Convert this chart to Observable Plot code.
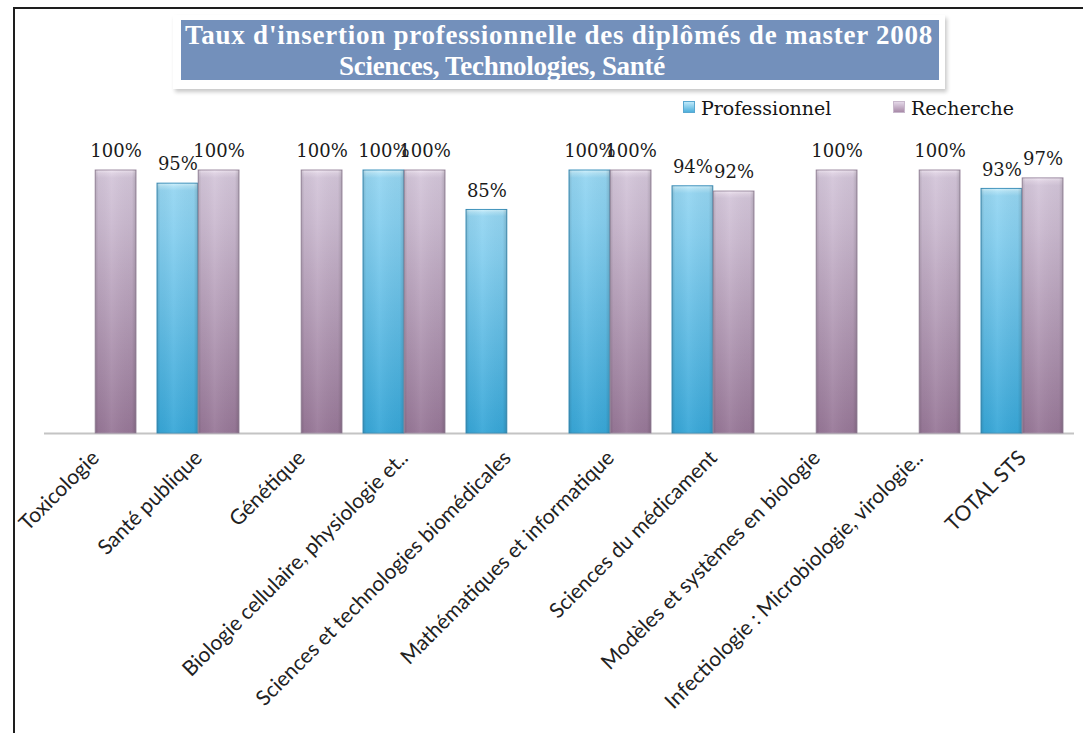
<!DOCTYPE html>
<html>
<head>
<meta charset="utf-8">
<script src="https://cdn.jsdelivr.net/npm/d3@7"></script>
<script src="https://cdn.jsdelivr.net/npm/@observablehq/plot@0.6"></script>
<style>
  html, body { margin: 0; padding: 0; background: #fff; }
  #root { position: relative; width: 1083px; height: 733px; overflow: hidden; background: #fff; }
  #frame { position: absolute; left: 13px; top: 7px; right: -4px; bottom: -4px; border-top: 2px solid #1e1e1e; border-left: 2px solid #1e1e1e; }
  #chart { position: absolute; left: 0; top: 0; }
  #titlebox { position: absolute; left: 173px; top: 15px; width: 772px; height: 74px; background: #fff;
    box-shadow: 2px 3px 4px rgba(0,0,0,0.22); }
  #titleinner { position: absolute; left: 8px; top: 5px; width: 758px; height: 60px; background: #7390bb;
    color: #fff; font-family: "Liberation Serif", serif; font-weight: bold; font-size: 27px; line-height: 31px; }
  #titleinner div { position: relative; white-space: nowrap; height: 31px; }
  #titleinner span { position: absolute; top: 0; }
  #legend { position: absolute; left: 0; top: 0; font-family: "DejaVu Serif", serif; font-size: 19px; color: #151515; }
  .lg { position: absolute; top: 97px; white-space: nowrap; }
  .sw { display: inline-block; width: 10px; height: 10px; margin-right: 6px; vertical-align: 2px; }
</style>
</head>
<body>
<div id="root">
  <div id="frame"></div>
  <div id="chart"></div>
  <div id="titlebox"><div id="titleinner"></div></div>
  <div id="legend"></div>
</div>
<script>
// ---- data ----
const titleLines = ["Taux d'insertion professionnelle des diplômés de master 2008", "Sciences, Technologies, Santé"];
const categories = [
  "Toxicologie",
  "Santé publique",
  "Génétique",
  "Biologie cellulaire, physiologie et..",
  "Sciences et technologies biomédicales",
  "Mathématiques et informatique",
  "Sciences du médicament",
  "Modèles et systèmes en biologie",
  "Infectiologie : Microbiologie, virologie..",
  "TOTAL STS"
];
const seriesNames = ["Professionnel", "Recherche"];
const professionnel = [null, 95, null, 100, 85, 100, 94, null, null, 93];
const recherche = [100, 100, 100, 100, null, 100, 92, 100, 100, 97];

// ---- rows ----
const proRows = categories.map((c, i) => ({category: c, serie: seriesNames[0], value: professionnel[i]})).filter(d => d.value != null);
const recRows = categories.map((c, i) => ({category: c, serie: seriesNames[1], value: recherche[i]})).filter(d => d.value != null);

// ---- layout ----
const W = 1083, H = 733;
const mL = 44, mR = 9, mT = 170, mB = 300;
const pIn = 0.2, pOut = 0.1;
const step = (W - mL - mR) / (categories.length - pIn + 2 * pOut);
const half = step * (1 - pIn) / 2;

const labelFont = {fontFamily: "DejaVu Serif", fontSize: 18, fill: "#1a1a1a"};

const svg = Plot.plot({
  width: W, height: H,
  marginLeft: mL, marginRight: mR, marginTop: mT, marginBottom: mB,
  style: {fontFamily: "Lato, sans-serif", fontSize: "21px", color: "#222", background: "transparent", overflow: "visible"},
  x: {domain: categories, paddingInner: pIn, paddingOuter: pOut, tickRotate: -45, tickSize: 0, tickPadding: 21, label: null},
  y: {domain: [0, 100], axis: null},
  marks: [
    Plot.ruleY([0], {stroke: "#c4c4c4", strokeWidth: 2}),
    Plot.barY(proRows, {x: "category", y: "value", insetRight: half, fill: "url(#gPro)", stroke: "#3e93bd", strokeWidth: 1}),
    Plot.barY(proRows, {x: "category", y: "value", insetRight: half, fill: "url(#gShade)"}),
    Plot.barY(recRows, {x: "category", y: "value", insetLeft: half, fill: "url(#gRec)", stroke: "#a08ea4", strokeWidth: 1}),
    Plot.barY(recRows, {x: "category", y: "value", insetLeft: half, fill: "url(#gShade)"}),
    Plot.text(proRows, {x: "category", y: "value", text: d => d.value + "%", dx: -half / 2, dy: -19, ...labelFont}),
    Plot.text(recRows, {x: "category", y: "value", text: d => d.value + "%", dx: half / 2, dy: -19, ...labelFont})
  ]
});

// gradients
const defs = d3.select(svg).insert("defs", ":first-child");
function vgrad(id, stops) {
  const g = defs.append("linearGradient").attr("id", id).attr("x1", 0).attr("y1", 0).attr("x2", 0).attr("y2", 1);
  stops.forEach(([o, c]) => g.append("stop").attr("offset", o).attr("stop-color", c));
}
vgrad("gPro", [[0, "#d2f1fc"], [0.012, "#b0e2f6"], [0.03, "#94d5f1"], [0.2, "#86cfef"], [1, "#38a7d8"]]);
vgrad("gRec", [[0, "#f1e8f3"], [0.012, "#dfd2e3"], [0.03, "#d3c5d9"], [0.2, "#cbbad0"], [1, "#987898"]]);
const sh = defs.append("linearGradient").attr("id", "gShade").attr("x1", 0).attr("y1", 0).attr("x2", 1).attr("y2", 0);
[[0, "rgba(0,0,0,0.14)"], [0.08, "rgba(0,0,0,0.03)"], [0.4, "rgba(255,255,255,0.06)"], [0.9, "rgba(0,0,0,0.03)"], [1, "rgba(0,0,0,0.16)"]]
  .forEach(([o, c]) => sh.append("stop").attr("offset", o).attr("stop-color", c));

document.getElementById("chart").appendChild(svg);

// title: line 1 fitted to its reference width, line 2 centred where the reference has it
const ti = document.getElementById("titleinner");
titleLines.forEach((t, i) => {
  const d = document.createElement("div");
  const s = document.createElement("span");
  s.textContent = t;
  d.appendChild(s);
  ti.appendChild(d);
  if (i === 0) {
    const w = s.getBoundingClientRect().width;
    s.style.letterSpacing = ((748 - w) / t.length) + "px";
    s.style.left = "4px";
  } else {
    s.style.letterSpacing = "-0.3px";
    const w = s.getBoundingClientRect().width;
    s.style.left = (321 - w / 2) + "px";
  }
});

// legend
const lg = document.getElementById("legend");
const legendPos = [683, 893];
const swatch = ["linear-gradient(#bfe9fa, #4eb0dc)", "linear-gradient(#e4d8e8, #a88aa8)"];
seriesNames.forEach((s, i) => {
  const e = document.createElement("div");
  e.className = "lg";
  e.style.left = legendPos[i] + "px";
  e.innerHTML = `<span class="sw" style="background:${swatch[i]};border:1px solid ${i ? '#c8b8cc' : '#5aa8d0'}"></span>${s}`;
  lg.appendChild(e);
});
</script>
</body>
</html>
